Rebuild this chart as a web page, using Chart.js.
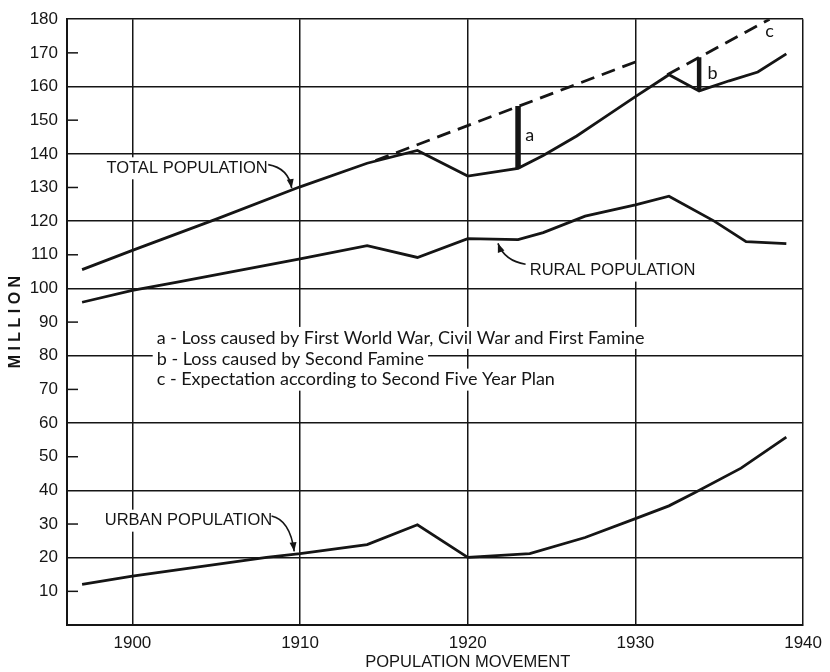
<!DOCTYPE html>
<html>
<head>
<meta charset="utf-8">
<title>Population Movement</title>
<script src="https://cdn.jsdelivr.net/npm/chart.js@4"></script>
<style>
  body { margin: 0; background: #fff; }
  #chart { display: block; }
</style>
</head>
<body>
<canvas id="chart" width="830" height="672"></canvas>
<script>
// values (million)
const xTicks = [1900, 1910, 1920, 1930, 1940];
const yTicks = [0, 10, 20, 30, 40, 50, 60, 70, 80, 90, 100, 110, 120, 130, 140, 150, 160, 170, 180];

const totalYears = [1897, 1900, 1905, 1910, 1914, 1917, 1920, 1923, 1924.5, 1926.5, 1928, 1930, 1932, 1933.8, 1935.6, 1937.3, 1939];
const totalValues = [105.6, 111.3, 120.6, 130.2, 137.2, 141, 133.4, 135.7, 139.5, 145.3, 150.3, 157, 163.5, 158.7, 161.7, 164.3, 169.7];

const ruralYears = [1897, 1900, 1902.6, 1910, 1914, 1917, 1920, 1923, 1924.5, 1927, 1930, 1932, 1934.7, 1936.6, 1939];
const ruralValues = [95.9, 99.4, 101.8, 108.8, 112.7, 109.2, 114.8, 114.5, 116.6, 121.5, 124.8, 127.4, 120, 113.9, 113.3];

const urbanYears = [1897, 1900, 1908, 1910, 1914, 1917, 1920, 1923.7, 1927, 1930, 1932, 1933.5, 1936.3, 1939];
const urbanValues = [12.1, 14.5, 20.1, 21.2, 23.9, 29.8, 20.1, 21.2, 26, 31.6, 35.4, 39.2, 46.6, 55.8];

// c - expectation (two dashed pieces)
const planYears1 = [1914.5, 1930];
const planValues1 = [138, 167.3];
const planYears2 = [1931.9, 1938];
const planValues2 = [163.5, 180];

// a and b - losses
const lossAYears = [1923, 1923];
const lossAValues = [135.7, 154.2];
const lossBYears = [1933.8, 1933.8];
const lossBValues = [158.7, 168.7];

const legendLines = [
  "a - Loss caused by First World War, Civil War and First Famine",
  "b - Loss caused by Second Famine",
  "c - Expectation according to Second Five Year Plan"
];

const ink = "#151515";
const capsFont = '16.5px "Liberation Sans", Arial, sans-serif';
const noteFont = '18px "Lato", "Open Sans", sans-serif';

function toPoints(xs, ys) {
  return xs.map((x, i) => ({ x: x, y: ys[i] }));
}

function lineSet(xs, ys, extra) {
  return Object.assign({
    data: toPoints(xs, ys),
    borderColor: ink,
    borderWidth: 2.8,
    pointRadius: 0,
    tension: 0,
    fill: false
  }, extra || {});
}

// annotation placements, in data units
const notes = [
  { text: "TOTAL POPULATION", at: [1898.45, 135.7],
    arrow: [[1908.1, 136.8], [1909.3, 135.8], [1909.5, 129.8]] },
  { text: "RURAL POPULATION", at: [1923.7, 105.3],
    arrow: [[1923.45, 107.2], [1922.2, 108.2], [1921.8, 113.4]] },
  { text: "URBAN POPULATION", at: [1898.35, 31],
    arrow: [[1908.3, 32.4], [1909.4, 31.2], [1909.65, 21.9]] }
];
const letterNotes = [
  { text: "a", at: [1923.7, 145.5] },
  { text: "b", at: [1934.6, 164.1] },
  { text: "c", at: [1938.0, 176.5] }
];
const legendAt = [1901.45, [85.3, 79.1, 72.9]];

function textWithBack(ctx, text, px, py, font) {
  ctx.font = font;
  const w = ctx.measureText(text).width;
  ctx.fillStyle = "#fff";
  ctx.fillRect(px - 4, py - 11, w + 8, 22);
  ctx.fillStyle = ink;
  ctx.textAlign = "left";
  ctx.textBaseline = "middle";
  ctx.fillText(text, px, py);
}

function drawArrow(ctx, p0, c, p1) {
  ctx.beginPath();
  ctx.moveTo(p0[0], p0[1]);
  ctx.quadraticCurveTo(c[0], c[1], p1[0], p1[1]);
  ctx.lineWidth = 1.6;
  ctx.strokeStyle = ink;
  ctx.stroke();
  const ang = Math.atan2(p1[1] - c[1], p1[0] - c[0]);
  ctx.beginPath();
  ctx.moveTo(p1[0], p1[1]);
  ctx.lineTo(p1[0] - 9 * Math.cos(ang) + 3.5 * Math.sin(ang), p1[1] - 9 * Math.sin(ang) - 3.5 * Math.cos(ang));
  ctx.lineTo(p1[0] - 9 * Math.cos(ang) - 3.5 * Math.sin(ang), p1[1] - 9 * Math.sin(ang) + 3.5 * Math.cos(ang));
  ctx.closePath();
  ctx.fillStyle = ink;
  ctx.fill();
}

const paperNotes = {
  id: "paperNotes",
  beforeDatasetsDraw(chart) {
    const { ctx, chartArea } = chart;
    const xs = chart.scales.x, ys = chart.scales.y;
    const px = (p) => [xs.getPixelForValue(p[0]), ys.getPixelForValue(p[1])];
    ctx.save();
    // short inner ticks on the odd tens
    ctx.strokeStyle = ink;
    ctx.lineWidth = 1.5;
    yTicks.forEach((v) => {
      if (v > 0 && v % 20 !== 0) {
        const py = ys.getPixelForValue(v);
        ctx.beginPath();
        ctx.moveTo(chartArea.left, py);
        ctx.lineTo(chartArea.left + 11, py);
        ctx.stroke();
      }
    });
    notes.forEach((n) => {
      const p = px(n.at);
      textWithBack(ctx, n.text, p[0], p[1], capsFont);
      drawArrow(ctx, px(n.arrow[0]), px(n.arrow[1]), px(n.arrow[2]));
    });
    letterNotes.forEach((n) => {
      const p = px(n.at);
      ctx.font = noteFont;
      ctx.fillStyle = ink;
      ctx.textAlign = "center";
      ctx.textBaseline = "middle";
      ctx.fillText(n.text, p[0], p[1]);
    });
    legendLines.forEach((t, i) => {
      const p = px([legendAt[0], legendAt[1][i]]);
      textWithBack(ctx, t, p[0], p[1], noteFont);
    });
    ctx.restore();
  },
  afterDraw(chart) {
    const { ctx } = chart;
    const xs = chart.scales.x;
    ctx.save();
    ctx.font = '16.5px "Liberation Sans", Arial, sans-serif';
    ctx.fillStyle = ink;
    ctx.textAlign = "center";
    ctx.textBaseline = "middle";
    ctx.fillText("POPULATION MOVEMENT", xs.getPixelForValue(1920), 662);
    ctx.restore();
  }
};

const gridColor = (ctx) => (ctx.tick && ctx.tick.value % 20 === 0 ? ink : "rgba(0,0,0,0)");

new Chart(document.getElementById("chart").getContext("2d"), {
  type: "line",
  data: {
    datasets: [
      lineSet(totalYears, totalValues),
      lineSet(ruralYears, ruralValues),
      lineSet(urbanYears, urbanValues),
      lineSet(planYears1, planValues1, { borderDash: [14, 8], borderCapStyle: "butt" }),
      lineSet(planYears2, planValues2, { borderDash: [14, 8], borderCapStyle: "butt" }),
      lineSet(lossAYears, lossAValues, { borderWidth: 5.5 }),
      lineSet(lossAYears, lossAValues, { borderWidth: 2, borderColor: "#fff" }),
      lineSet(lossBYears, lossBValues, { borderWidth: 4.5 })
    ]
  },
  options: {
    responsive: false,
    animation: false,
    devicePixelRatio: 1,
    layout: { padding: { top: 15, right: 22, bottom: 0, left: 0 } },
    plugins: {
      legend: { display: false },
      tooltip: { enabled: false }
    },
    scales: {
      x: {
        type: "linear",
        min: 1896.1,
        max: 1940,
        afterBuildTicks: (scale) => { scale.ticks = xTicks.map((v) => ({ value: v })); },
        afterFit: (scale) => { scale.height = 47; },
        grid: { color: ink, lineWidth: 1.5, drawTicks: false },
        border: { color: ink, width: 2 },
        ticks: {
          color: ink,
          padding: 8,
          maxRotation: 0,
          font: { family: '"Liberation Sans", Arial, sans-serif', size: 17 },
          callback: (v) => String(v)
        }
      },
      y: {
        type: "linear",
        min: 0,
        max: 180,
        afterBuildTicks: (scale) => { scale.ticks = yTicks.map((v) => ({ value: v })); },
        afterFit: (scale) => { scale.width = 67; },
        grid: { color: gridColor, lineWidth: 1.5, drawTicks: false },
        border: { color: ink, width: 2 },
        title: {
          display: true,
          text: "M I L L I O N",
          color: ink,
          padding: { top: 6, bottom: 0 },
          font: { family: '"Liberation Sans", Arial, sans-serif', size: 16, weight: "bold" }
        },
        ticks: {
          color: ink,
          padding: 9,
          font: { family: '"Liberation Sans", Arial, sans-serif', size: 17 },
          callback: (v) => (v === 0 ? "" : String(v))
        }
      }
    }
  },
  plugins: [paperNotes]
});
</script>
</body>
</html>
